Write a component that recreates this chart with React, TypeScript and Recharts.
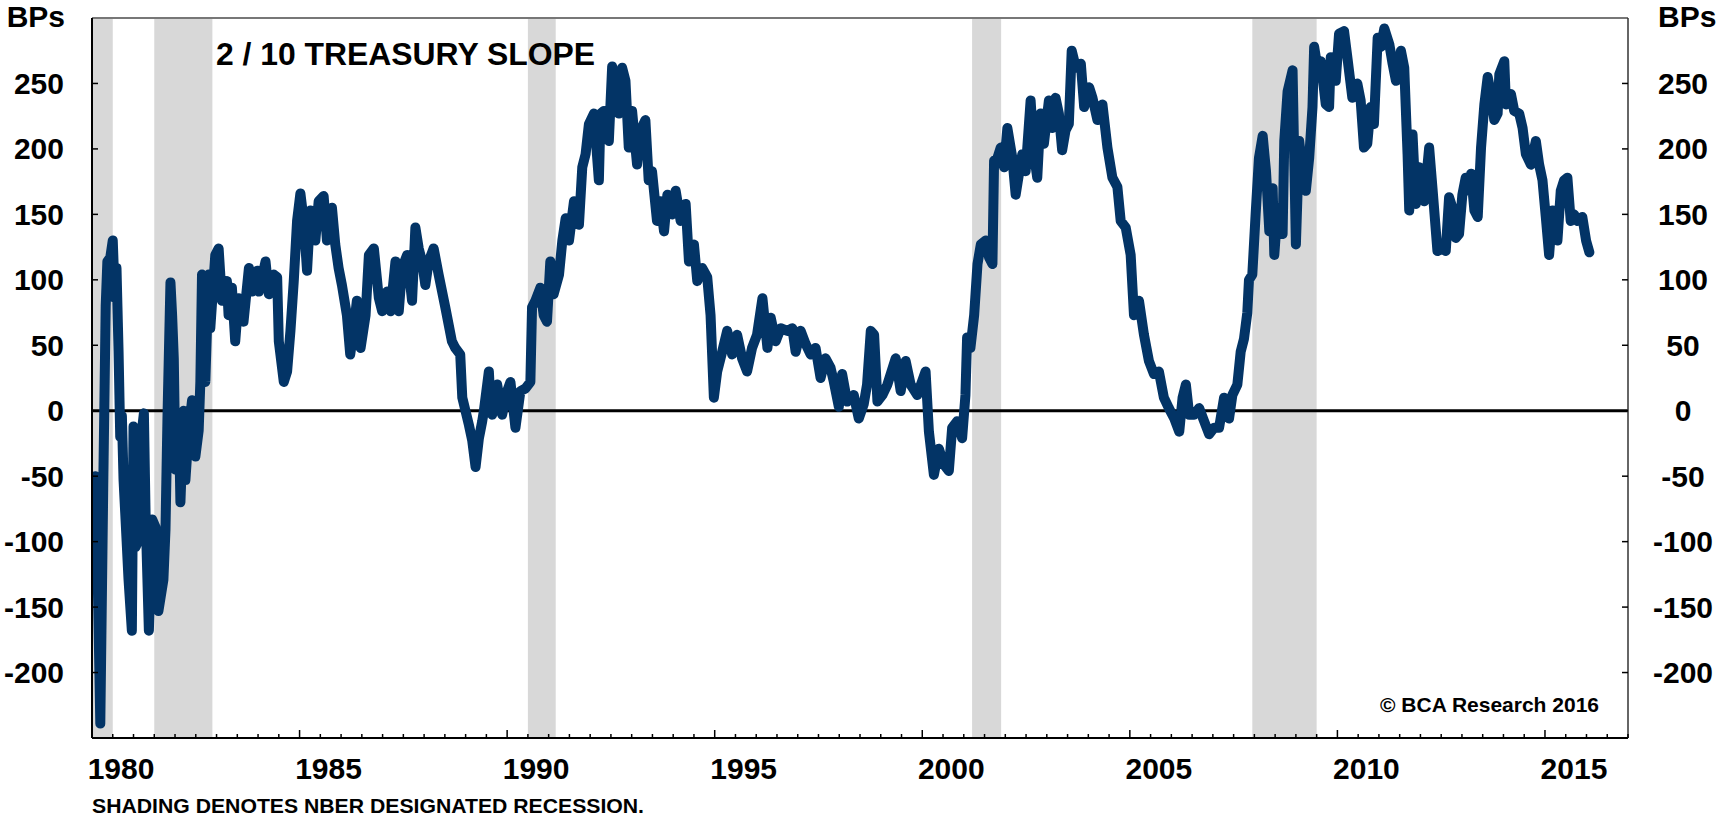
import { LineChart, Line, XAxis, YAxis, ReferenceArea, ReferenceLine } from "recharts";

// 2/10 Treasury slope, basis points
const dates1980s = [
  1980.0, 1980.04, 1980.08, 1980.12, 1980.2, 1980.27, 1980.33, 1980.37, 1980.44, 1980.5, 1980.55, 1980.59, 1980.64, 1980.68, 1980.72, 1980.76, 1980.8, 1980.88, 1980.96,
  1981.0, 1981.05, 1981.12, 1981.16, 1981.25, 1981.29, 1981.37, 1981.45, 1981.53, 1981.6, 1981.72, 1981.77, 1981.82, 1981.89, 1981.93, 1981.97,
  1982.01, 1982.09, 1982.13, 1982.21, 1982.25, 1982.33, 1982.41, 1982.49, 1982.57, 1982.61, 1982.65, 1982.73, 1982.81, 1982.85, 1982.97,
  1983.05, 1983.13, 1983.25, 1983.29, 1983.37, 1983.45, 1983.53, 1983.65, 1983.78, 1983.86, 1983.98,
  1984.02, 1984.18, 1984.26, 1984.38, 1984.46, 1984.5, 1984.62, 1984.7, 1984.78, 1984.86, 1984.94,
  1985.02, 1985.1, 1985.18, 1985.26, 1985.38, 1985.46, 1985.58, 1985.66, 1985.78, 1985.86, 1985.94,
  1986.02, 1986.14, 1986.22, 1986.3, 1986.38, 1986.47, 1986.59, 1986.67, 1986.79, 1986.91, 1986.99,
  1987.11, 1987.19, 1987.31, 1987.39, 1987.47, 1987.59, 1987.71, 1987.79, 1987.87, 1987.95,
  1988.03, 1988.11, 1988.23, 1988.35, 1988.51, 1988.67, 1988.75, 1988.87, 1988.92,
  1989.08, 1989.16, 1989.24, 1989.32, 1989.4, 1989.44, 1989.56, 1989.6, 1989.64, 1989.76, 1989.88,
];
const spread1980s = [
  -85, -62, -50, -95, -239, -60, 80, 114, 117, 130, 86, 109, 45, -20, -4, -53, -78, -129, -168,
  -12, -104, -99, -27, -2, -78, -168, -83, -89, -153, -129, -91, -2, 98, 73, 40,
  -45, -2, -70, 0, -53, -15, 8, -35, -15, 22, 104, 22, 104, 63, 119,
  124, 84, 99, 73, 94, 53, 86, 68, 109, 91, 107,
  91, 114, 89, 104, 102, 53, 22, 30, 61, 99, 145,
  166, 145, 107, 153, 130, 160, 164, 130, 155, 127, 109,
  96, 73, 43, 61, 84, 48, 73, 119, 124, 86, 76,
  91, 76, 114, 76, 109, 119, 84, 140, 124, 114,
  96, 114, 124, 104, 79, 53, 48, 43, 10,
  -11, -23, -43, -21, -8, 0, 30, 5, -3, 20, -3,
];

const dates1990s = [
  1990.0, 1990.08, 1990.2, 1990.32, 1990.44, 1990.56, 1990.6, 1990.68, 1990.8, 1990.88, 1990.96,
  1991.04, 1991.12, 1991.25, 1991.33, 1991.41, 1991.49, 1991.61, 1991.73, 1991.81, 1991.89, 1991.97,
  1992.09, 1992.21, 1992.25, 1992.33, 1992.45, 1992.53, 1992.61, 1992.69, 1992.77, 1992.85, 1992.93,
  1993.01, 1993.13, 1993.21, 1993.33, 1993.41, 1993.49, 1993.61, 1993.69, 1993.78, 1993.86, 1993.98,
  1994.06, 1994.18, 1994.3, 1994.38, 1994.5, 1994.58, 1994.7, 1994.82, 1994.9, 1994.98,
  1995.06, 1995.18, 1995.3, 1995.42, 1995.54, 1995.66, 1995.78, 1995.9,
  1996.02, 1996.15, 1996.27, 1996.35, 1996.47, 1996.59, 1996.75, 1996.87, 1996.95,
  1997.07, 1997.19, 1997.31, 1997.43, 1997.55, 1997.67, 1997.79, 1997.87, 1997.99,
  1998.07, 1998.19, 1998.35, 1998.47, 1998.59, 1998.67, 1998.76, 1998.84, 1998.92,
  1999.04, 1999.16, 1999.36, 1999.48, 1999.6, 1999.72, 1999.88,
];
const spread1990s = [
  15, 22, -13, 15, 17, 22, 79, 84, 94, 73, 68,
  114, 89, 104, 130, 147, 130, 160, 142, 186, 196, 219,
  227, 176, 227, 229, 206, 263, 252, 227, 262, 252, 201,
  229, 188, 214, 222, 176, 183, 145, 160, 137, 165, 150,
  168, 145, 158, 114, 127, 99, 109, 102, 73, 10,
  30, 45, 61, 43, 58, 40, 30, 48,
  58, 86, 48, 71, 53, 63, 61, 63, 45,
  61, 51, 43, 48, 25, 40, 33, 22, 3,
  28, 7, 12, -6, 5, 20, 61, 58, 7,
  12, 20, 40, 15, 38, 20, 12,
];

const dates2000s = [
  2000.08, 2000.16, 2000.28, 2000.4, 2000.52, 2000.64, 2000.72, 2000.84, 2000.96,
  2001.04, 2001.08, 2001.16, 2001.25, 2001.33, 2001.41, 2001.53, 2001.61, 2001.69, 2001.73, 2001.81, 2001.89, 2001.97,
  2002.05, 2002.17, 2002.25, 2002.33, 2002.41, 2002.49, 2002.61, 2002.69, 2002.77, 2002.85, 2002.93,
  2003.05, 2003.13, 2003.21, 2003.29, 2003.37, 2003.45, 2003.53, 2003.6, 2003.7, 2003.82, 2003.9,
  2004.02, 2004.1, 2004.22, 2004.34, 2004.46, 2004.58, 2004.7, 2004.78, 2004.9,
  2005.02, 2005.1, 2005.22, 2005.34, 2005.46, 2005.58, 2005.7, 2005.82, 2005.94,
  2006.07, 2006.19, 2006.27, 2006.35, 2006.43, 2006.55, 2006.67, 2006.79, 2006.91,
  2007.03, 2007.15, 2007.27, 2007.39, 2007.47, 2007.59, 2007.67, 2007.75, 2007.83, 2007.87, 2007.95,
  2008.03, 2008.11, 2008.2, 2008.28, 2008.36, 2008.44, 2008.48, 2008.56, 2008.68, 2008.72, 2008.8, 2008.92,
  2009.0, 2009.08, 2009.16, 2009.24, 2009.32, 2009.4, 2009.44, 2009.52, 2009.6, 2009.72, 2009.8, 2009.84, 2009.96,
];
const spread2000s = [
  30, -16, -49, -29, -41, -46, -13, -8, -21,
  12, 56, 48, 73, 112, 127, 130, 117, 112, 191, 193, 201, 186,
  216, 193, 165, 181, 196, 183, 237, 196, 178, 227, 204,
  237, 216, 239, 227, 199, 214, 219, 275, 262, 265, 232,
  247, 239, 222, 234, 201, 178, 171, 145, 140,
  119, 73, 84, 58, 38, 28, 30, 10, 2,
  -6, -16, 10, 20, -3, -3, 2, -8, -18,
  -13, -13, 10, -6, 12, 20, 45, 55, 75, 100, 104,
  150, 193, 210, 183, 137, 170, 119, 155, 135, 206, 244, 260,
  127, 206, 183, 168, 193, 232, 278, 262, 267, 234, 232, 270, 252,
];

const dates2010s = [
  2010.04, 2010.16, 2010.24, 2010.36, 2010.48, 2010.56, 2010.64, 2010.72, 2010.8, 2010.88, 2010.97,
  2011.05, 2011.13, 2011.25, 2011.33, 2011.41, 2011.53, 2011.61, 2011.69, 2011.73, 2011.81, 2011.89, 2011.97,
  2012.09, 2012.21, 2012.29, 2012.41, 2012.53, 2012.61, 2012.69, 2012.77, 2012.85, 2012.93,
  2013.01, 2013.09, 2013.17, 2013.22, 2013.3, 2013.38, 2013.46, 2013.54, 2013.62, 2013.7, 2013.78, 2013.86, 2013.9,
  2014.02, 2014.06, 2014.18, 2014.26, 2014.38, 2014.46, 2014.54, 2014.66, 2014.78, 2014.86, 2014.94,
  2015.02, 2015.1, 2015.18, 2015.3, 2015.38, 2015.46, 2015.54, 2015.62, 2015.7, 2015.78, 2015.9, 2015.99,
  2016.07,
];
const spread2010s = [
  288, 290, 270, 239, 250, 237, 201, 204, 232, 219, 285,
  278, 292, 280, 265, 252, 275, 262, 196, 153, 211, 158, 186,
  160, 201, 170, 122, 124, 122, 163, 155, 132, 135,
  165, 178, 168, 181, 153, 148, 201, 234, 255, 242, 222, 227, 257,
  267, 234, 242, 229, 227, 216, 196, 188, 206, 188, 176,
  148, 119, 153, 130, 168, 176, 178, 145, 150, 145, 148, 130,
  121,
];

// NBER recessions (fractional years)
const recessionStart = [1980.0, 1981.5, 1990.5, 2001.2, 2007.95];
const recessionEnd = [1980.5, 1982.9, 1991.17, 2001.9, 2009.5];

const yTicks = [-200, -150, -100, -50, 0, 50, 100, 150, 200, 250];
const xLabelYears = [1980, 1985, 1990, 1995, 2000, 2005, 2010, 2015];
const xTicks = Array.from({ length: 75 }, (_, i) => 1980 + i * 0.5);

const allDates = [...dates1980s, ...dates1990s, ...dates2000s, ...dates2010s];
const allSpread = [...spread1980s, ...spread1990s, ...spread2000s, ...spread2010s];
const data = allDates.map((t, i) => ({ t, v: allSpread[i] }));

const FONT = "'Liberation Sans', Arial, sans-serif";
const NAVY = "#033466";

function XTick(props: any) {
  const { x, y, payload } = props;
  const v = payload.value;
  const major = Math.abs(v - Math.round(v / 5) * 5) < 1e-6;
  return (
    <g>
      <line x1={x} x2={x} y1={y} y2={y - (major ? 8 : 4)} stroke="#000" strokeWidth={1.5} />
      {major && xLabelYears.includes(v) && (
        <text x={x + 29} y={y + 41} textAnchor="middle" fontFamily={FONT} fontWeight="bold" fontSize={30} fill="#000">
          {v}
        </text>
      )}
    </g>
  );
}

function LeftTick(props: any) {
  const { x, y, payload } = props;
  return (
    <g>
      <line x1={x} x2={x + 6} y1={y} y2={y} stroke="#000" strokeWidth={1.5} />
      <text x={x - 28} y={y + 10.5} textAnchor="end" fontFamily={FONT} fontWeight="bold" fontSize={30} fill="#000">
        {payload.value}
      </text>
    </g>
  );
}

function RightTick(props: any) {
  const { x, y, payload } = props;
  return (
    <g>
      <line x1={x} x2={x - 6} y1={y} y2={y} stroke="#000" strokeWidth={1.5} />
      <text x={x + 55} y={y + 10.5} textAnchor="middle" fontFamily={FONT} fontWeight="bold" fontSize={30} fill="#000">
        {payload.value}
      </text>
    </g>
  );
}

export default function App() {
  return (
    <div style={{ position: "absolute", left: 0, top: 0, width: 1721, height: 816, background: "#fff", overflow: "hidden" }}>
      <LineChart width={1721} height={816} data={data} margin={{ top: 18, right: 33, bottom: 48, left: 32 }}>
        <XAxis
          dataKey="t"
          type="number"
          domain={[1980, 2017]}
          allowDataOverflow
          ticks={xTicks}
          interval={0}
          height={30}
          tickSize={0}
          tickMargin={0}
          tickLine={false}
          axisLine={{ stroke: "#000", strokeWidth: 2 }}
          tick={(p: any) => <XTick {...p} />}
        />
        <YAxis
          yAxisId="left"
          orientation="left"
          type="number"
          domain={[-250, 300]}
          allowDataOverflow
          ticks={yTicks}
          interval={0}
          width={60}
          tickSize={0}
          tickMargin={0}
          tickLine={false}
          axisLine={{ stroke: "#000", strokeWidth: 2 }}
          tick={(p: any) => <LeftTick {...p} />}
        />
        <YAxis
          yAxisId="right"
          orientation="right"
          type="number"
          domain={[-250, 300]}
          allowDataOverflow
          ticks={yTicks}
          interval={0}
          width={60}
          tickSize={0}
          tickMargin={0}
          tickLine={false}
          axisLine={{ stroke: "#333", strokeWidth: 1.5 }}
          tick={(p: any) => <RightTick {...p} />}
        />
        {recessionStart.map((s, i) => (
          <ReferenceArea key={s} yAxisId="left" x1={s} x2={recessionEnd[i]} fill="#d8d8d8" fillOpacity={1} stroke="none" />
        ))}
        <ReferenceLine yAxisId="left" y={300} stroke="#777" strokeWidth={2} />
        <ReferenceLine yAxisId="left" y={0} stroke="#000" strokeWidth={3} />
        <Line
          yAxisId="left"
          type="linear"
          dataKey="v"
          stroke={NAVY}
          strokeWidth={10}
          strokeLinejoin="round"
          strokeLinecap="round"
          dot={false}
          isAnimationActive={false}
        />
      </LineChart>
      <svg width={1721} height={816} style={{ position: "absolute", left: 0, top: 0, pointerEvents: "none" }}>
        <g fontFamily={FONT} fontWeight="bold" fill="#000">
          <text x={65} y={27} textAnchor="end" fontSize={30}>BPs</text>
          <text x={1658} y={27} fontSize={30}>BPs</text>
          <text x={216} y={65} fontSize={31} textLength={379} lengthAdjust="spacingAndGlyphs">2 / 10 TREASURY SLOPE</text>
          <text x={1599} y={712} textAnchor="end" fontSize={21}>© BCA Research 2016</text>
          <text x={92} y={813} fontSize={21} textLength={552} lengthAdjust="spacingAndGlyphs">SHADING DENOTES NBER DESIGNATED RECESSION.</text>
        </g>
      </svg>
    </div>
  );
}
